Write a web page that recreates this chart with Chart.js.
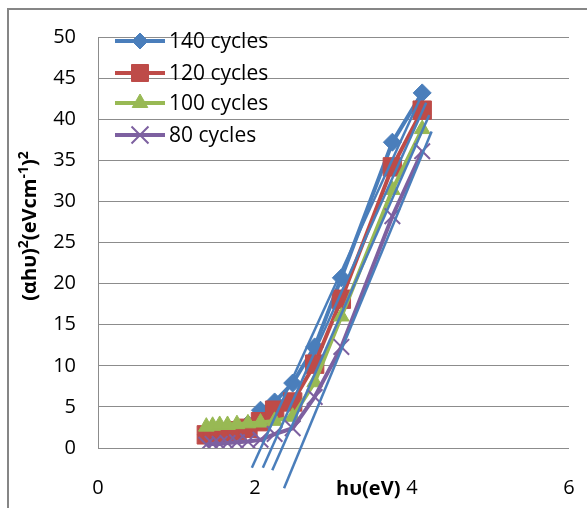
<!DOCTYPE html>
<html>
<head>
<meta charset="utf-8">
<script src="https://cdn.jsdelivr.net/npm/chart.js@4.4.1/dist/chart.umd.min.js"></script>
<style>
  html, body { margin: 0; padding: 0; background: #fff; }
  canvas { display: block; }
</style>
</head>
<body>
<canvas id="tauc-chart" width="587" height="508"></canvas>
<script>
// photon energy (eV) shared by all series
const hv = [1.38, 1.46, 1.55, 1.65, 1.77, 1.91, 2.07, 2.25, 2.48, 2.76, 3.10, 3.75, 4.13];

// (alpha h nu)^2 values
const cycles140 = [1.6, 1.8, 2.0, 2.2, 2.4, 2.9, 4.6, 5.6, 7.9, 12.3, 20.7, 37.2, 43.2];
const cycles120 = [1.6, 1.7, 1.8, 1.9, 2.1, 2.4, 3.2, 4.6, 5.6, 10.2, 18.1, 34.2, 41.1];
const cycles100 = [2.6, 2.7, 2.8, 2.8, 2.9, 3.0, 3.1, 3.3, 3.8, 8.0, 16.0, 31.4, 38.8];
const cycles80  = [0.4, 0.5, 0.5, 0.6, 0.7, 0.8, 1.0, 1.7, 2.4, 6.2, 12.3, 28.2, 36.1];

const seriesNames = ['140 cycles', '120 cycles', '100 cycles', '80 cycles'];

// linear extrapolation lines (start and end points)
const fitStartX = [1.96, 2.10, 2.22, 2.37];
const fitStartY = [-2.4, -2.4, -2.7, -4.9];
const fitEndX   = [4.15, 4.18, 4.22, 4.25];
const fitEndY   = [43.5, 42.0, 40.5, 38.5];

const xTicks = [0, 2, 4, 6];
const yTicks = [0, 5, 10, 15, 20, 25, 30, 35, 40, 45, 50];

const FONT = '"Open Sans", "Noto Sans", sans-serif';

const toPoints = ys => ys.map((y, i) => ({ x: hv[i], y: y }));

const styles = [
    { color: '#4A7EBB', pointStyle: 'rectRot', radius: 9, legendRadius: 8 },
    { color: '#BE4B48', pointStyle: 'rect', radius: 13, legendRadius: 12 },
    { color: '#98B954', pointStyle: 'triangle', radius: 9, legendRadius: 9 },
    { color: '#7D60A0', pointStyle: 'crossRot', radius: 11, legendRadius: 12 }
];
const allSeries = [cycles140, cycles120, cycles100, cycles80];

const datasets = allSeries.map((vals, i) => ({
    label: seriesNames[i],
    data: toPoints(vals),
    borderColor: styles[i].color,
    backgroundColor: styles[i].color,
    pointBackgroundColor: styles[i].color,
    pointBorderColor: styles[i].color,
    pointStyle: styles[i].pointStyle,
    pointRadius: styles[i].radius,
    pointBorderWidth: styles[i].pointStyle === 'crossRot' ? 2 : 1,
    borderWidth: 4,
    tension: 0,
    order: 4 - i
}));

fitStartX.forEach((sx, i) => {
    datasets.push({
        label: 'fit ' + seriesNames[i],
        data: [{ x: sx, y: fitStartY[i] }, { x: fitEndX[i], y: fitEndY[i] }],
        borderColor: '#4A7EBB',
        borderWidth: 2.5,
        pointRadius: 0,
        clip: false,
        order: 0
    });
});

// frame, custom legend and axis titles
const decorations = {
    id: 'decorations',
    beforeDraw(chart) {
        const ctx = chart.ctx;
        ctx.save();
        ctx.fillStyle = '#fff';
        ctx.fillRect(0, 0, chart.width, chart.height);
        ctx.strokeStyle = '#868686';
        ctx.lineWidth = 2;
        ctx.beginPath();
        ctx.moveTo(8, chart.height);
        ctx.lineTo(8, 9);
        ctx.lineTo(chart.width, 9);
        ctx.stroke();
        ctx.restore();
    },
    afterDraw(chart) {
        const ctx = chart.ctx;
        ctx.save();

        // legend
        const rowY = [41, 73, 103, 135];
        seriesNames.forEach((name, i) => {
            const st = styles[i];
            const y = rowY[i];
            ctx.strokeStyle = st.color;
            ctx.lineWidth = 4;
            ctx.beginPath();
            ctx.moveTo(115, y);
            ctx.lineTo(165, y);
            ctx.stroke();
            ctx.fillStyle = st.color;
            ctx.lineWidth = st.pointStyle === 'crossRot' ? 2 : 1;
            Chart.helpers.drawPoint(ctx, {
                pointStyle: st.pointStyle,
                radius: st.legendRadius,
                rotation: 0,
                borderWidth: ctx.lineWidth
            }, 140, y);
            ctx.fillStyle = '#000';
            ctx.font = '21px ' + FONT;
            ctx.textAlign = 'left';
            ctx.textBaseline = 'middle';
            ctx.fillText(name, 169, y + 1);
        });

        // x title
        ctx.fillStyle = '#000';
        ctx.font = 'bold 20px ' + FONT;
        ctx.textAlign = 'left';
        ctx.textBaseline = 'alphabetic';
        ctx.fillText('hυ(eV)', 336, 495);

        // y title, rotated, with superscripts
        const parts = [
            ['(αhυ)', false], ['2', true], ['(eVcm', false], ['-1', true], [')', false], ['2', true]
        ];
        const big = 'bold 20px ' + FONT;
        const small = 'bold 14px ' + FONT;
        let total = 0;
        parts.forEach(p => { ctx.font = p[1] ? small : big; total += ctx.measureText(p[0]).width; });
        ctx.translate(36, 226);
        ctx.rotate(-Math.PI / 2);
        let x = -total / 2;
        parts.forEach(p => {
            ctx.font = p[1] ? small : big;
            ctx.fillText(p[0], x, p[1] ? -8 : 0);
            x += ctx.measureText(p[0]).width;
        });
        ctx.restore();
    }
};

new Chart(document.getElementById('tauc-chart'), {
    type: 'line',
    data: { datasets: datasets },
    options: {
        responsive: false,
        animation: false,
        devicePixelRatio: 1,
        layout: { padding: { top: 37, right: 18, left: 0, bottom: 0 } },
        plugins: {
            legend: { display: false },
            tooltip: { enabled: false }
        },
        scales: {
            x: {
                type: 'linear',
                min: 0,
                max: 6,
                afterBuildTicks: scale => { scale.ticks = xTicks.map(v => ({ value: v })); },
                afterFit: scale => { scale.height = 60; scale.paddingLeft = 0; scale.paddingRight = 0; },
                ticks: { color: '#000', font: { family: FONT, size: 20 }, padding: 28 },
                grid: { display: false, drawTicks: false },
                border: { display: false }
            },
            y: {
                min: 0,
                max: 50,
                afterBuildTicks: scale => { scale.ticks = yTicks.map(v => ({ value: v })); },
                afterFit: scale => { scale.width = 98; scale.paddingTop = 0; scale.paddingBottom = 0; },
                ticks: { color: '#000', font: { family: FONT, size: 20 }, padding: 22 },
                grid: { color: '#8c8c8c', lineWidth: 1, drawTicks: false },
                border: { display: true, color: '#8c8c8c', width: 1 }
            }
        }
    },
    plugins: [decorations]
});
</script>
</body>
</html>
